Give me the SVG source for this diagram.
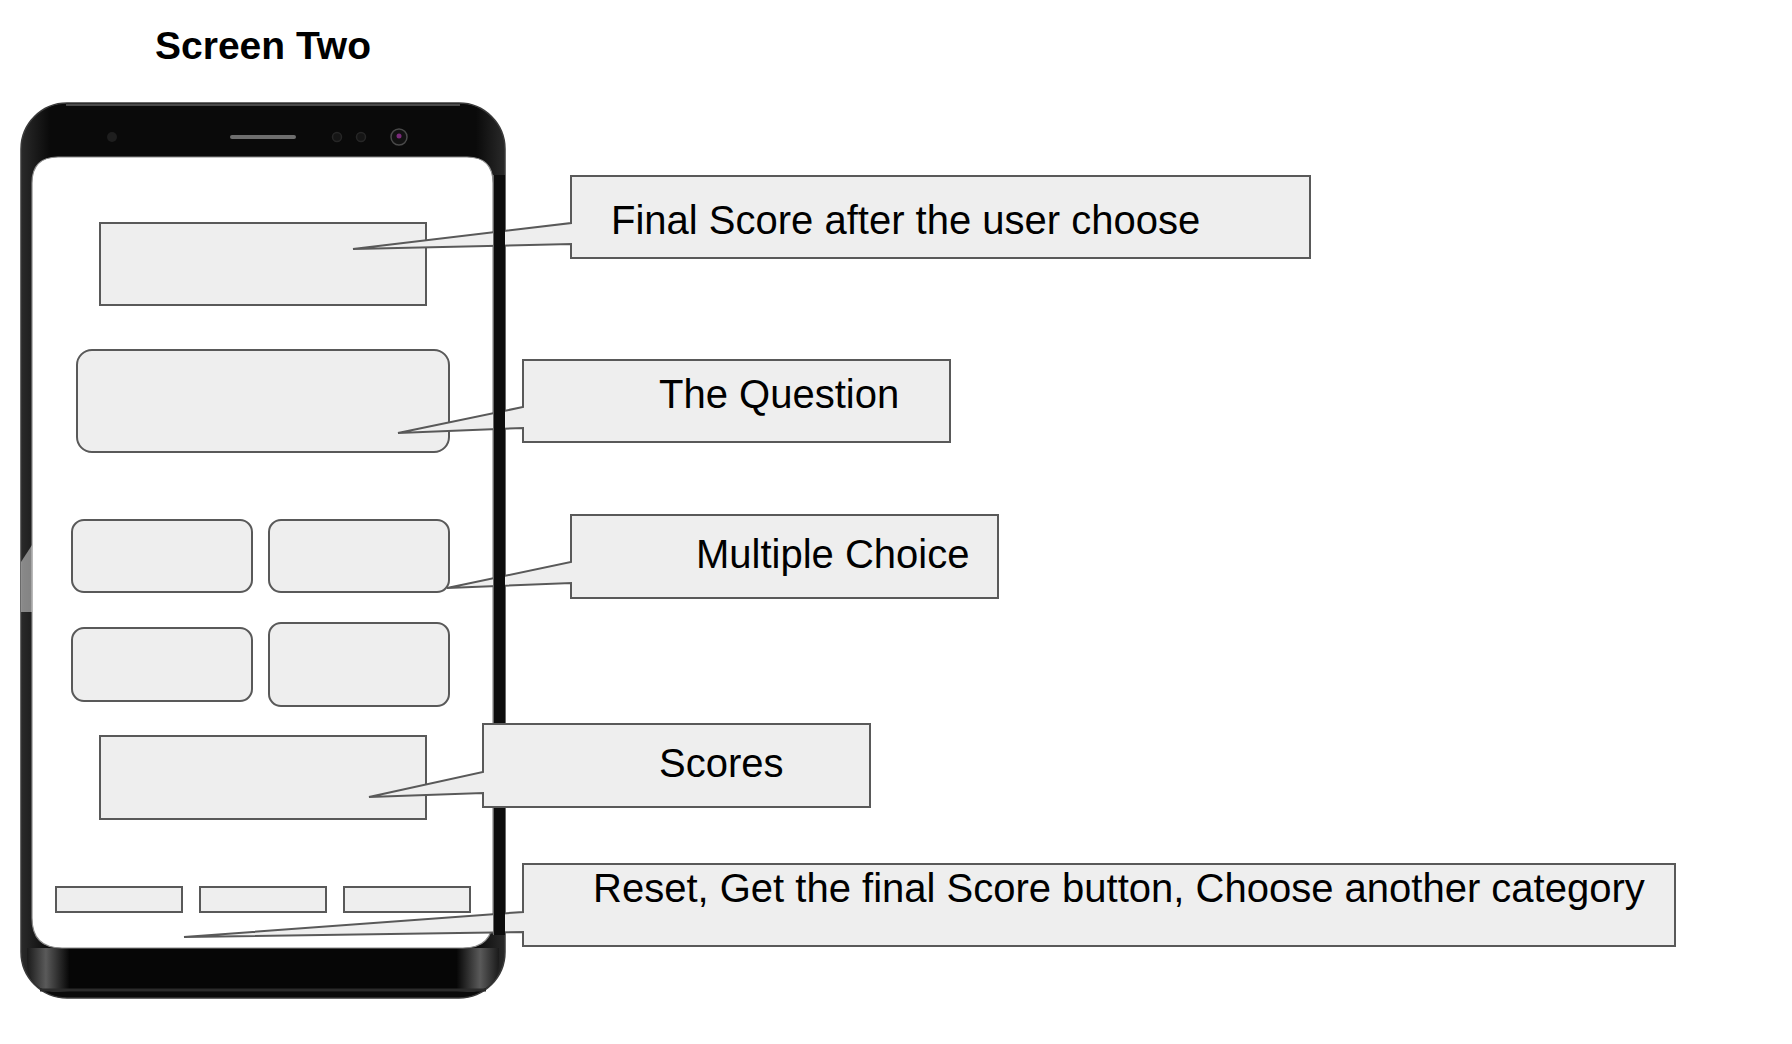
<svg xmlns="http://www.w3.org/2000/svg" width="1792" height="1044" viewBox="0 0 1792 1044">
  <style>
    .lbl { font-family: "Liberation Sans", Arial, sans-serif; font-size: 40px; fill: #000; }
    .title { font-family: "Liberation Sans", Arial, sans-serif; font-size: 39px; font-weight: bold; fill: #000; }
    .box { fill: #eeeeee; stroke: #595959; stroke-width: 2; }
    .callout { fill: #eeeeee; stroke: #595959; stroke-width: 2; stroke-linejoin: miter; }
  </style>
  <defs>
    <!-- bezel shading: grey rims at the rounded edges of the handset -->
    <linearGradient id="bezelH" x1="0" y1="0" x2="1" y2="0">
      <stop offset="0" stop-color="#2a2a2a"/>
      <stop offset="0.06" stop-color="#0a0a0a"/>
      <stop offset="0.94" stop-color="#0a0a0a"/>
      <stop offset="1" stop-color="#2a2a2a"/>
    </linearGradient>
    <linearGradient id="chinShade" x1="0" y1="0" x2="1" y2="0">
      <stop offset="0" stop-color="#1a1a1a"/>
      <stop offset="0.04" stop-color="#5a5a5a"/>
      <stop offset="0.09" stop-color="#060606"/>
      <stop offset="0.91" stop-color="#060606"/>
      <stop offset="0.96" stop-color="#5a5a5a"/>
      <stop offset="1" stop-color="#1a1a1a"/>
    </linearGradient>
  </defs>

  <rect width="1792" height="1044" fill="#ffffff"/>

  <text class="title" x="155" y="59">Screen Two</text>

  <!-- handset -->
  <g id="phone">
    <rect x="21" y="103" width="484" height="895" rx="46" ry="46" fill="url(#bezelH)" stroke="#3a3a3a" stroke-width="1.5"/>
    <!-- chin band with grey corner highlights -->
    <path d="M27,948 H499 V960 Q499,992 467,992 H59 Q27,992 27,960 Z" fill="url(#chinShade)"/>
    <path d="M40,990 H486" stroke="#2b2b2b" stroke-width="3"/>
    <!-- top highlight rim -->
    <path d="M66,105 H460" stroke="#4a4a4a" stroke-width="2"/>
    <!-- screen -->
    <path d="M58,157 H467 Q493,157 493,183 V918 Q493,948 463,948 H62 Q32,948 32,918 V183 Q32,157 58,157 Z" fill="#ffffff" stroke="#8a8a8a" stroke-width="1.2"/>
    <!-- sensors, speaker and camera -->
    <circle cx="112" cy="137" r="5" fill="#1e1e1e"/>
    <line x1="232" y1="137" x2="294" y2="137" stroke="#6e6e6e" stroke-width="4" stroke-linecap="round"/>
    <circle cx="337" cy="137" r="4.5" fill="#151515" stroke="#262626" stroke-width="1.5"/>
    <circle cx="361" cy="137" r="4.5" fill="#151515" stroke="#262626" stroke-width="1.5"/>
    <circle cx="399" cy="137" r="8" fill="#121212" stroke="#4a4a4a" stroke-width="1.5"/>
    <circle cx="399" cy="136" r="2.5" fill="#7a2a7a"/>
  </g>

  <!-- screen widgets -->
  <g id="final-score-field"><rect class="box" x="100" y="223" width="326" height="82"/></g>
  <g id="question-panel"><rect class="box" x="77" y="350" width="372" height="102" rx="15" ry="15"/></g>
  <g id="choice-1"><rect class="box" x="72" y="520" width="180" height="72" rx="12" ry="12"/></g>
  <g id="choice-2"><rect class="box" x="269" y="520" width="180" height="72" rx="12" ry="12"/></g>
  <g id="choice-3"><rect class="box" x="72" y="628" width="180" height="73" rx="12" ry="12"/></g>
  <g id="choice-4"><rect class="box" x="269" y="623" width="180" height="83" rx="12" ry="12"/></g>
  <g id="scores-field"><rect class="box" x="100" y="736" width="326" height="83"/></g>
  <g id="btn-reset"><rect class="box" x="56" y="887" width="126" height="25"/></g>
  <g id="btn-final"><rect class="box" x="200" y="887" width="126" height="25"/></g>
  <g id="btn-category"><rect class="box" x="344" y="887" width="126" height="25"/></g>

  <!-- callouts: each box carries its pointer wedge -->
  <g id="connectors">
    <g id="callout-final-score">
      <path class="callout" d="M571,176 H1310 V258 H571 V244 L353,249 L571,223 Z"/>
      <text class="lbl" x="611" y="234">Final Score after the user choose</text>
    </g>
    <g id="callout-question">
      <path class="callout" d="M523,360 H950 V442 H523 V428 L398,433 L523,407 Z"/>
      <text class="lbl" x="659" y="408">The Question</text>
    </g>
    <g id="callout-choices">
      <path class="callout" d="M571,515 H998 V598 H571 V583 L447,588 L571,562 Z"/>
      <text class="lbl" x="696" y="568">Multiple Choice</text>
    </g>
    <g id="callout-buttons">
      <path class="callout" d="M523,864 H1675 V946 H523 V932 L184,937 L523,912 Z"/>
      <text class="lbl" x="593" y="902">Reset, Get the final Score button, Choose another category</text>
    </g>
  </g>

  <!-- right side rail of the handset, drawn above the pointer wedges -->
  <rect x="493" y="175" width="12" height="760" fill="#0d0d0d"/>
  <line x1="493.5" y1="175" x2="493.5" y2="935" stroke="#6a6a6a" stroke-width="1"/>

  <g id="callout-scores">
    <path class="callout" d="M483,724 H870 V807 H483 V793 L369,797 L483,772 Z"/>
    <text class="lbl" x="659" y="777">Scores</text>
  </g>

  <!-- faint light smear across the left rail -->
  <path d="M21,562 L32,545 L32,612 L21,612 Z" fill="#ffffff" opacity="0.45"/>
</svg>
